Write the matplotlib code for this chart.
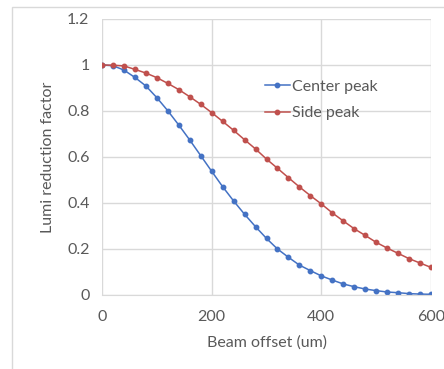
import matplotlib
matplotlib.use("Agg")
import matplotlib.pyplot as plt
from matplotlib.patches import Rectangle

plt.rcParams['font.family'] = ['Lato', 'DejaVu Sans']

offset = list(range(0, 601, 20))
center_peak = [1.0, 0.997, 0.978, 0.946, 0.909, 0.858, 0.801, 0.739, 0.674, 0.606,
               0.538, 0.471, 0.409, 0.351, 0.297, 0.246, 0.200, 0.164, 0.130, 0.106,
               0.083, 0.065, 0.048, 0.036, 0.026, 0.019, 0.013, 0.010, 0.006, 0.004, 0.003]
side_peak = [1.0, 0.999, 0.996, 0.981, 0.965, 0.945, 0.920, 0.893, 0.862, 0.829,
             0.793, 0.755, 0.716, 0.675, 0.635, 0.591, 0.551, 0.510, 0.470, 0.432,
             0.396, 0.357, 0.322, 0.288, 0.259, 0.229, 0.204, 0.181, 0.158, 0.139, 0.120]

text_col = '#595959'
grid_col = '#D9D9D9'
fs = 11.5

fig = plt.figure(figsize=(4.44, 3.69), dpi=100)
# chart area border (only top and left visible)
fig.patches.append(Rectangle((12 / 444, -0.1), 1.2, 1.1 - 7 / 369,
                             transform=fig.transFigure, fill=False,
                             edgecolor=grid_col, linewidth=1))
ax = fig.add_axes([102 / 444, 1 - 295 / 369, 329 / 444, 276 / 369])

ax.plot(offset, center_peak, '-o', color='#4472C4', markersize=3.2, linewidth=1.1,
        label='Center peak')
ax.plot(offset, side_peak, '-o', color='#C0504D', markersize=3.2, linewidth=1.1,
        label='Side peak')

ax.set_xlim(0, 600)
ax.set_ylim(0, 1.2)
ax.set_xticks([0, 200, 400, 600])
ax.set_yticks([0, 0.2, 0.4, 0.6, 0.8, 1.0, 1.2])
ax.set_yticklabels(['0', '0.2', '0.4', '0.6', '0.8', '1', '1.2'])
ax.grid(True, color=grid_col, linewidth=1)
ax.set_axisbelow(True)
for s in ax.spines.values():
    s.set_visible(False)
ax.spines['bottom'].set_visible(True)
ax.spines['bottom'].set_color(grid_col)
ax.tick_params(axis='y', length=0, labelsize=fs, colors=text_col, pad=9)
ax.tick_params(axis='x', length=0, labelsize=fs, colors=text_col, pad=11)

ax.set_xlabel('Beam offset (um)', fontsize=fs, color=text_col, labelpad=8)
ax.set_ylabel('Lumi reduction factor', fontsize=fs, color=text_col, labelpad=9)

ax.legend(loc='upper left', bbox_to_anchor=(0.46, 0.82), frameon=False, fontsize=fs,
          labelcolor=text_col, handlelength=1.6, handletextpad=0.1, labelspacing=0.75,
          borderpad=0.2)

fig.savefig('out.png', dpi=100)
